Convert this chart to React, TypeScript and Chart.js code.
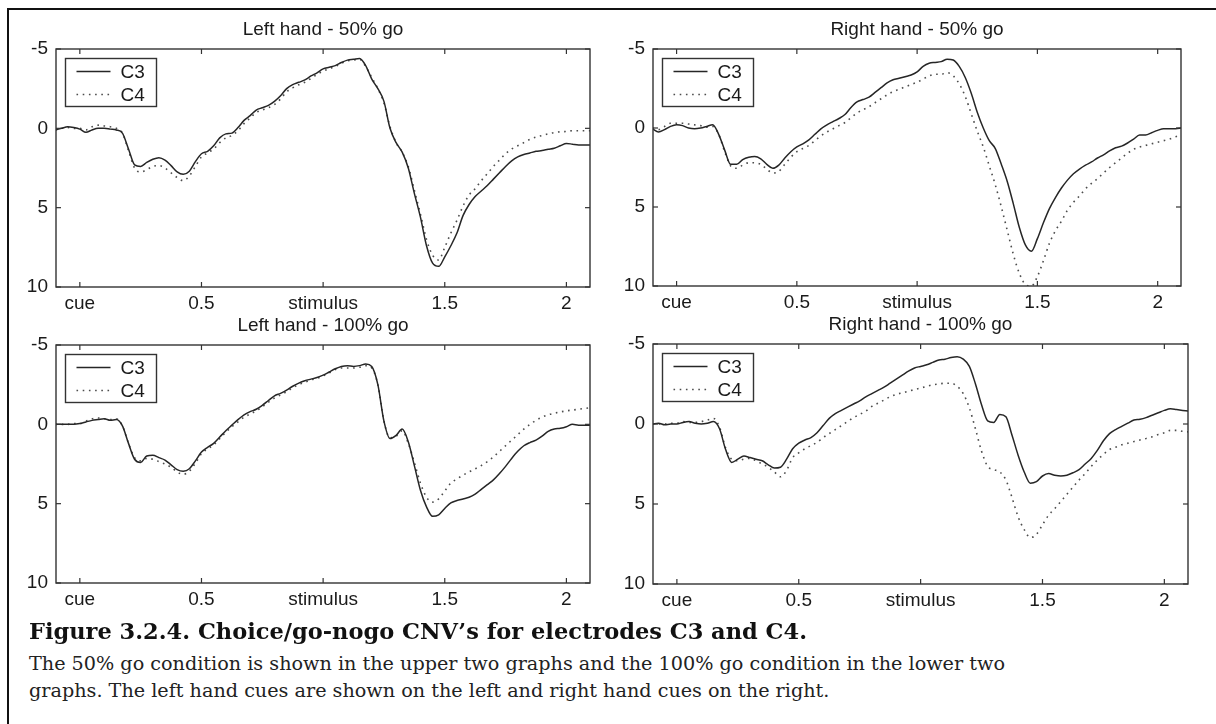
import React, { useEffect, useRef } from 'react';
import { Chart, registerables } from 'chart.js';

Chart.register(...registerables);

// ---------- data ----------
const TIME = [
  -0.1, -0.075, -0.05, -0.025, 0, 0.025, 0.05, 0.075, 0.1, 0.125,
  0.15, 0.175, 0.2, 0.225, 0.25, 0.275, 0.3, 0.325, 0.35, 0.375,
  0.4, 0.425, 0.45, 0.475, 0.5, 0.525, 0.55, 0.575, 0.6, 0.625,
  0.65, 0.675, 0.7, 0.725, 0.75, 0.775, 0.8, 0.825, 0.85, 0.875,
  0.9, 0.925, 0.95, 0.975, 1.0, 1.025, 1.05, 1.075, 1.1, 1.125,
  1.15, 1.175, 1.2, 1.225, 1.25, 1.275, 1.3, 1.325, 1.35, 1.375,
  1.4, 1.425, 1.45, 1.475, 1.5, 1.525, 1.55, 1.575, 1.6, 1.625,
  1.65, 1.675, 1.7, 1.725, 1.75, 1.775, 1.8, 1.825, 1.85, 1.875,
  1.9, 1.925, 1.95, 1.975, 2.0, 2.025, 2.05, 2.075, 2.1,
];

const X_TICKS = [0, 0.5, 1, 1.5, 2];
const X_TICK_LABELS = ['cue', '0.5', 'stimulus', '1.5', '2'];
const Y_TICKS = [-5, 0, 5, 10];
const SERIES_NAMES = ['C3', 'C4'];
const PANEL_TITLES = [
  'Left hand - 50% go',
  'Right hand - 50% go',
  'Left hand - 100% go',
  'Right hand - 100% go',
];

const LEFT50_C3 = [
  0.1, 0.0, -0.1, -0.05, 0.05, 0.25, 0.1, 0.0, 0.0, 0.05,
  0.1, 0.3, 1.3, 2.3, 2.4, 2.15, 1.95, 1.85, 2.0, 2.35,
  2.75, 2.9, 2.7, 2.1, 1.6, 1.45, 1.1, 0.6, 0.35, 0.3,
  -0.05, -0.5, -0.8, -1.15, -1.3, -1.45, -1.7, -2.05, -2.5, -2.75,
  -2.9, -3.05, -3.3, -3.5, -3.75, -3.85, -3.95, -4.15, -4.3, -4.35,
  -4.4, -3.95, -3.1, -2.5, -1.7, 0.0, 0.9, 1.5, 2.5, 4.1,
  5.6, 7.4, 8.5, 8.7, 8.1, 7.4, 6.6, 5.5, 4.8, 4.3,
  3.95, 3.6, 3.2, 2.8, 2.4, 2.05, 1.8, 1.65, 1.55, 1.45,
  1.4, 1.32, 1.25, 1.1, 0.95, 1.0, 1.05, 1.05, 1.05,
];
const LEFT50_C4 = [
  0.1, 0.0, -0.05, 0.0, 0.0, 0.1, -0.1, -0.2, -0.15, -0.1,
  0.0, 0.3, 1.4, 2.5, 2.75, 2.6, 2.4, 2.35, 2.5, 2.8,
  3.1, 3.3, 3.0, 2.4, 1.8, 1.55, 1.3, 0.9, 0.6, 0.45,
  0.15, -0.3, -0.65, -1.0, -1.15, -1.3, -1.5, -1.85, -2.3, -2.55,
  -2.75, -2.9, -3.15, -3.4, -3.6, -3.75, -3.9, -4.1, -4.25, -4.3,
  -4.35, -3.9, -3.2, -2.5, -1.6, -0.1, 0.9, 1.5, 2.4, 3.9,
  5.4, 7.0, 8.0, 8.3, 7.5, 6.6, 5.8, 4.9, 4.2, 3.8,
  3.3, 2.85, 2.4, 2.0, 1.6, 1.3, 1.1, 0.9, 0.7, 0.55,
  0.45, 0.35, 0.27, 0.22, 0.2, 0.15, 0.15, 0.15, 0.15,
];
const RIGHT50_C3 = [
  0.05, 0.25, 0.1, -0.1, -0.2, -0.15, 0.0, 0.05, 0.0, -0.1,
  -0.2, 0.4, 1.4, 2.3, 2.3, 2.0, 1.85, 1.8, 1.95, 2.3,
  2.55, 2.35, 1.9, 1.5, 1.2, 1.0, 0.75, 0.4, 0.05, -0.2,
  -0.4, -0.6, -0.85, -1.3, -1.65, -1.8, -1.95, -2.25, -2.55, -2.85,
  -3.05, -3.15, -3.25, -3.35, -3.55, -3.9, -4.1, -4.15, -4.2, -4.35,
  -4.3, -3.9, -3.2, -2.2, -1.0, 0.0, 0.8, 1.3, 2.3, 3.4,
  4.8, 6.3, 7.4, 7.8, 7.0, 6.0, 5.1, 4.4, 3.8, 3.3,
  2.9, 2.6, 2.35, 2.15, 1.9, 1.7, 1.45, 1.25, 1.15, 0.95,
  0.7, 0.45, 0.45, 0.3, 0.15, 0.05, 0.05, 0.05, 0.0,
];
const RIGHT50_C4 = [
  0.0, 0.1, -0.1, -0.3, -0.3, -0.3, -0.25, -0.2, -0.15, -0.05,
  -0.1, 0.4, 1.5, 2.4, 2.55, 2.35, 2.2, 2.2, 2.3, 2.6,
  2.85, 2.75, 2.3, 1.85, 1.5, 1.3, 1.1, 0.8, 0.5, 0.25,
  0.05, -0.15, -0.35, -0.65, -0.95, -1.15, -1.35, -1.6, -1.85, -2.1,
  -2.3, -2.45, -2.6, -2.75, -2.9, -3.1, -3.3, -3.4, -3.4, -3.5,
  -3.3, -2.8, -2.0, -0.9, 0.2, 1.2, 2.4, 3.6, 5.0, 6.5,
  8.0, 9.2, 9.9, 10.0, 9.4, 8.4, 7.3, 6.5, 5.9, 5.2,
  4.7, 4.3, 3.85, 3.5, 3.2, 2.85, 2.5, 2.2, 1.9, 1.6,
  1.35, 1.2, 1.1, 1.0, 0.9, 0.8, 0.7, 0.55, 0.45,
];
const LEFT100_C3 = [
  0.0, 0.0, 0.0, 0.0, -0.05, -0.15, -0.25, -0.3, -0.35, -0.25,
  -0.3, 0.1, 1.2, 2.2, 2.4, 2.0, 1.95, 2.1, 2.25, 2.55,
  2.85, 2.95, 2.8, 2.3, 1.75, 1.45, 1.2, 0.8, 0.4, 0.05,
  -0.3, -0.6, -0.8, -0.95, -1.2, -1.5, -1.8, -1.95, -2.15, -2.4,
  -2.6, -2.75, -2.85, -2.95, -3.1, -3.3, -3.5, -3.65, -3.7, -3.65,
  -3.7, -3.8, -3.65, -2.5, -0.2, 0.9, 0.7, 0.3, 1.1, 2.6,
  4.15, 5.2, 5.8, 5.7, 5.3, 4.95, 4.8, 4.7, 4.6, 4.4,
  4.1, 3.8, 3.5, 3.1, 2.65, 2.15, 1.7, 1.35, 1.15, 1.0,
  0.75, 0.45, 0.3, 0.25, 0.15, 0.0, 0.05, 0.05, 0.05,
];
const LEFT100_C4 = [
  0.0, 0.0, 0.0, -0.05, -0.05, -0.2, -0.35, -0.4, -0.35, -0.3,
  -0.35, 0.1, 1.2, 2.1, 2.3, 2.15, 2.2, 2.35, 2.5, 2.7,
  3.0, 3.15, 2.95, 2.45, 1.85, 1.55, 1.3, 0.9, 0.5, 0.15,
  -0.15, -0.45, -0.65, -0.85, -1.1, -1.4, -1.65, -1.85, -2.05, -2.3,
  -2.5, -2.65, -2.8, -2.9, -3.05, -3.25, -3.45, -3.55, -3.55, -3.55,
  -3.6, -3.7, -3.55, -2.5, -0.2, 0.85, 0.75, 0.4, 1.2, 2.4,
  3.7, 4.6, 4.9, 4.7, 4.2, 3.7, 3.45, 3.2, 3.0, 2.8,
  2.6, 2.35, 2.05, 1.7, 1.35, 1.0, 0.65, 0.3, 0.0, -0.25,
  -0.45, -0.6, -0.7, -0.78, -0.85, -0.9, -0.95, -1.0, -1.05,
];
const RIGHT100_C3 = [
  0.0, -0.05, 0.05, 0.0, 0.0, -0.1, -0.15, -0.05, 0.0, -0.05,
  -0.15, 0.3, 1.6, 2.4, 2.2, 2.0, 2.1, 2.2, 2.3, 2.55,
  2.75, 2.7, 2.2, 1.55, 1.2, 1.0, 0.85, 0.55, 0.1, -0.35,
  -0.65, -0.85, -1.05, -1.25, -1.45, -1.7, -1.9, -2.1, -2.3, -2.55,
  -2.8, -3.05, -3.3, -3.5, -3.6, -3.7, -3.85, -4.0, -4.05, -4.15,
  -4.2, -4.05, -3.6, -2.5, -1.2, -0.2, -0.1, -0.6, -0.45, 0.7,
  1.95, 3.0, 3.7, 3.6, 3.25, 3.1, 3.2, 3.25, 3.2, 3.05,
  2.85, 2.5, 2.15, 1.65, 1.05, 0.6, 0.35, 0.15, -0.05, -0.25,
  -0.3, -0.4, -0.55, -0.7, -0.85, -0.95, -0.9, -0.85, -0.8,
];
const RIGHT100_C4 = [
  0.0, 0.0, 0.0, -0.05, -0.05, -0.15, -0.1, -0.1, -0.15, -0.25,
  -0.35, 0.2, 1.5, 2.2, 2.3, 2.2, 2.15, 2.3, 2.5, 2.7,
  3.0, 3.3, 2.9, 2.1, 1.8, 1.55, 1.35, 1.15, 0.85, 0.6,
  0.35, 0.1, -0.15, -0.4, -0.6, -0.8, -1.1, -1.3, -1.5, -1.7,
  -1.85, -1.95, -2.05, -2.15, -2.25, -2.35, -2.45, -2.5, -2.55, -2.55,
  -2.35, -1.9, -1.0, 0.3, 1.7, 2.65, 2.85, 3.0, 3.5, 4.6,
  5.8, 6.6, 7.1, 6.9, 6.3, 5.7, 5.3, 4.85, 4.4, 3.95,
  3.5, 3.1, 2.65, 2.25, 1.9, 1.6, 1.45, 1.3, 1.2, 1.1,
  1.0, 0.9, 0.8, 0.65, 0.55, 0.4, 0.4, 0.45, 0.5,
];

// ---------- styling ----------
const SANS = '"Liberation Sans", Arial, Helvetica, sans-serif';
const INK = '#1a1a1a';
const FRAME = '#333333';

type Geo = { L: number; T: number; R: number; B: number };
const Y_AXIS_W = 56;
const TOP_PAD = 45;
const RIGHT_PAD = 12;
const X_AXIS_H = 35;

const near = (a: number, b: number) => Math.abs(a - b) < 1e-9;

const decorPlugin = {
  id: 'panelDecor',
  afterDraw(chart: any, _args: any, opts: any) {
    const { ctx, chartArea: a, scales } = chart;
    const x = scales.x;
    const y = scales.y;
    ctx.save();
    // frame
    ctx.strokeStyle = FRAME;
    ctx.lineWidth = 1.4;
    ctx.setLineDash([]);
    ctx.strokeRect(a.left, a.top, a.right - a.left, a.bottom - a.top);
    // inward ticks on all four sides
    ctx.lineWidth = 1.2;
    const seg = (x1: number, y1: number, x2: number, y2: number) => {
      ctx.beginPath();
      ctx.moveTo(x1, y1);
      ctx.lineTo(x2, y2);
      ctx.stroke();
    };
    X_TICKS.forEach((v) => {
      const px = x.getPixelForValue(v);
      seg(px, a.top, px, a.top + 5);
      seg(px, a.bottom, px, a.bottom - 5);
    });
    Y_TICKS.forEach((v) => {
      const py = y.getPixelForValue(v);
      seg(a.left, py, a.left + 5, py);
      seg(a.right, py, a.right - 5, py);
    });
    // title
    ctx.fillStyle = INK;
    ctx.font = `19px ${SANS}`;
    ctx.textAlign = 'center';
    ctx.textBaseline = 'alphabetic';
    ctx.fillText(opts.title, (a.left + a.right) / 2, a.top - 14.5);
    // legend box
    const bx = a.left + 9.5;
    const by = a.top + 9.5;
    const bw = 91;
    const bh = 48;
    ctx.fillStyle = '#ffffff';
    ctx.fillRect(bx, by, bw, bh);
    ctx.strokeStyle = FRAME;
    ctx.lineWidth = 1.4;
    ctx.strokeRect(bx, by, bw, bh);
    chart.data.datasets.forEach((ds: any, i: number) => {
      const ly = by + 13 + i * 23;
      ctx.strokeStyle = ds.borderColor;
      ctx.lineWidth = ds.borderWidth;
      ctx.lineCap = ds.borderCapStyle || 'butt';
      ctx.setLineDash(ds.borderDash || []);
      seg(bx + 11, ly, bx + 45, ly);
      ctx.setLineDash([]);
      ctx.fillStyle = INK;
      ctx.font = `19px ${SANS}`;
      ctx.textAlign = 'left';
      ctx.textBaseline = 'middle';
      ctx.fillText(ds.label, bx + 55, ly + 1);
    });
    ctx.restore();
  },
};

function Panel({ title, c3, c4, geo }: { title: string; c3: number[]; c4: number[]; geo: Geo }) {
  const ref = useRef<HTMLCanvasElement>(null);
  const width = geo.R - geo.L + Y_AXIS_W + RIGHT_PAD;
  const height = geo.B - geo.T + TOP_PAD + X_AXIS_H;

  useEffect(() => {
    if (!ref.current) return;
    const chart = new Chart(ref.current, {
      type: 'line',
      data: {
        datasets: [
          {
            label: SERIES_NAMES[0],
            data: TIME.map((t, i) => ({ x: t, y: c3[i] })),
            borderColor: '#262626',
            borderWidth: 1.5,
            pointRadius: 0,
            cubicInterpolationMode: 'monotone',
            fill: false,
          },
          {
            label: SERIES_NAMES[1],
            data: TIME.map((t, i) => ({ x: t, y: c4[i] })),
            borderColor: '#4d4d4d',
            borderWidth: 1.6,
            borderDash: [1.6, 4.6],
            pointRadius: 0,
            cubicInterpolationMode: 'monotone',
            fill: false,
          },
        ],
      },
      options: {
        responsive: false,
        animation: false,
        devicePixelRatio: 1,
        events: [],
        layout: { padding: { left: 0, top: TOP_PAD, right: RIGHT_PAD, bottom: 0 } },
        plugins: {
          legend: { display: false },
          title: { display: false },
          tooltip: { enabled: false },
          panelDecor: { title },
        } as any,
        scales: {
          x: {
            type: 'linear',
            min: -0.098,
            max: 2.097,
            afterBuildTicks: (s: any) => {
              s.ticks = X_TICKS.map((v) => ({ value: v }));
            },
            afterFit: (s: any) => {
              s.height = X_AXIS_H;
            },
            ticks: {
              autoSkip: false,
              maxRotation: 0,
              padding: 5,
              color: INK,
              font: { family: SANS, size: 19 },
              callback: (v: any) => {
                const i = X_TICKS.findIndex((t) => near(t, Number(v)));
                return i >= 0 ? X_TICK_LABELS[i] : '';
              },
            },
            grid: { display: false, drawTicks: false },
            border: { display: false },
          },
          y: {
            type: 'linear',
            reverse: true,
            min: -5,
            max: 10,
            afterBuildTicks: (s: any) => {
              s.ticks = Y_TICKS.map((v) => ({ value: v }));
            },
            afterFit: (s: any) => {
              s.width = Y_AXIS_W;
            },
            ticks: {
              padding: 8,
              color: INK,
              font: { family: SANS, size: 19 },
              callback: (v: any) => String(v),
            },
            grid: { display: false, drawTicks: false },
            border: { display: false },
          },
        },
      } as any,
      plugins: [decorPlugin],
    });
    return () => chart.destroy();
  }, [title, c3, c4, geo]);

  return (
    <canvas
      ref={ref}
      width={width}
      height={height}
      style={{
        position: 'absolute',
        left: geo.L - Y_AXIS_W,
        top: geo.T - TOP_PAD,
        width,
        height,
      }}
    />
  );
}

const GEO_TL: Geo = { L: 56, T: 49, R: 590, B: 287 };
const GEO_TR: Geo = { L: 653, T: 49, R: 1181, B: 286 };
const GEO_BL: Geo = { L: 56, T: 345, R: 590, B: 583 };
const GEO_BR: Geo = { L: 653, T: 344, R: 1188, B: 584 };

export default function App() {
  return (
    <div
      style={{
        position: 'absolute',
        left: 0,
        top: 0,
        width: 1216,
        height: 724,
        overflow: 'hidden',
        background: '#ffffff',
      }}
    >
      <div
        style={{
          position: 'absolute',
          left: 7,
          top: 8,
          width: 1300,
          height: 800,
          borderLeft: '2px solid #111',
          borderTop: '2px solid #111',
        }}
      />
      <Panel title={PANEL_TITLES[0]} c3={LEFT50_C3} c4={LEFT50_C4} geo={GEO_TL} />
      <Panel title={PANEL_TITLES[1]} c3={RIGHT50_C3} c4={RIGHT50_C4} geo={GEO_TR} />
      <Panel title={PANEL_TITLES[2]} c3={LEFT100_C3} c4={LEFT100_C4} geo={GEO_BL} />
      <Panel title={PANEL_TITLES[3]} c3={RIGHT100_C3} c4={RIGHT100_C4} geo={GEO_BR} />
      <div
        style={{
          position: 'absolute',
          left: 29,
          top: 620,
          font: 'bold 22.5px "DejaVu Serif", serif',
          lineHeight: '22.5px',
          color: '#111',
          whiteSpace: 'nowrap',
        }}
      >
        Figure 3.2.4. Choice/go-nogo CNV’s for electrodes C3 and C4.
      </div>
      <div
        style={{
          position: 'absolute',
          left: 29,
          top: 650,
          font: '19.2px "DejaVu Serif", serif',
          lineHeight: '27px',
          color: '#222',
          whiteSpace: 'nowrap',
        }}
      >
        The 50% go condition is shown in the upper two graphs and the 100% go condition in the lower two
        <br />
        graphs. The left hand cues are shown on the left and right hand cues on the right.
      </div>
    </div>
  );
}
